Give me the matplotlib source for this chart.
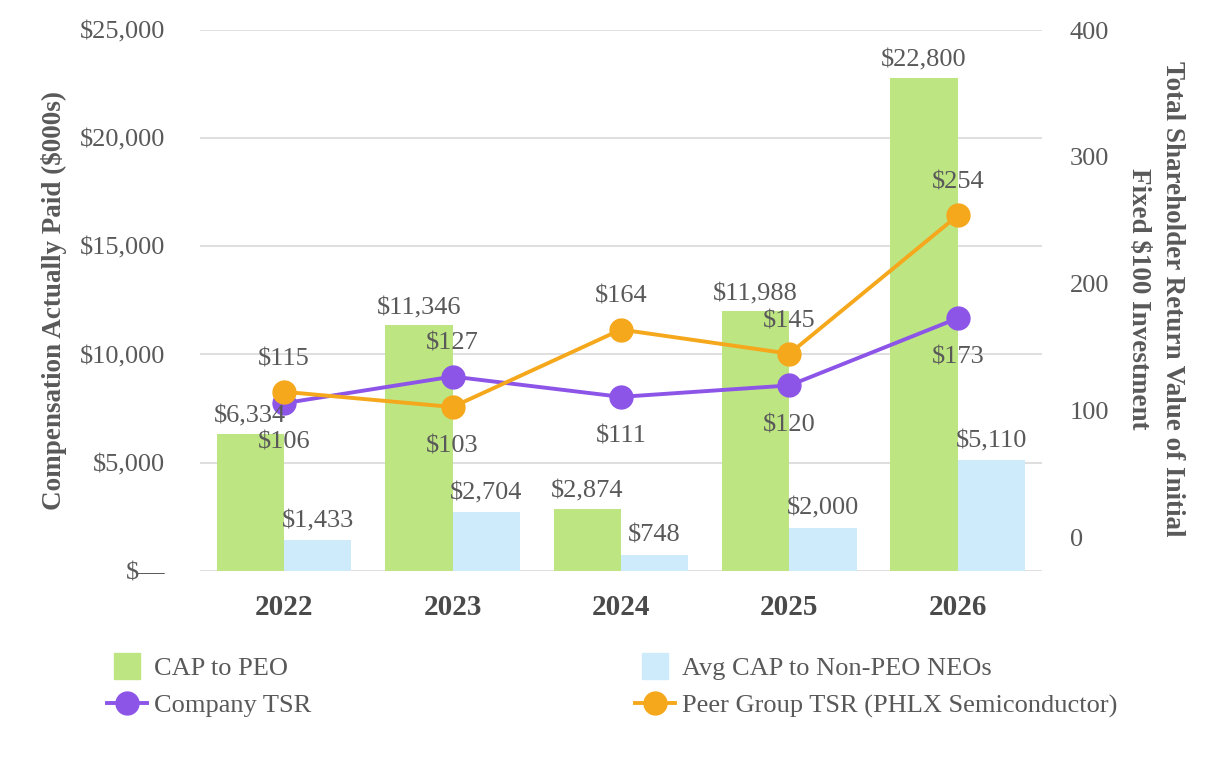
import numpy as np
import matplotlib.pyplot as plt
from matplotlib.lines import Line2D

years = ["2022", "2023", "2024", "2025", "2026"]
cap_peo = [6334, 11346, 2874, 11988, 22800]
cap_neo = [1433, 2704, 748, 2000, 5110]
company_tsr = [106, 127, 111, 120, 173]
peer_tsr = [115, 103, 164, 145, 254]
# label side for each line point: +1 above, -1 below
company_side = [-1, 1, -1, -1, -1]
peer_side = [1, -1, 1, 1, 1]

green = "#bde582"
blue = "#cdebfb"
purple = "#8c55e8"
orange = "#f5a81c"
gray = "#595959"

plt.rcParams["font.family"] = ["Liberation Serif", "DejaVu Serif"]
fs = 19

fig = plt.figure(figsize=(12.26, 7.6), dpi=100)
ax = fig.add_axes([0.163, 0.249, 0.687, 0.7115])
ax2 = ax.twinx()

x = np.arange(len(years))
w = 0.4
ax.bar(x - w / 2, cap_peo, w, color=green, zorder=2)
ax.bar(x + w / 2, cap_neo, w, color=blue, zorder=2)

ax.set_xlim(-0.5, 4.5)
ax.set_ylim(0, 25000)
ax.set_yticks(np.arange(0, 25001, 5000))
ax.set_yticklabels(["$\u2014"] + [f"${v:,}" for v in range(5000, 25001, 5000)])
ax.grid(axis="y", color="#d9d9d9", linewidth=1.2, zorder=0)
ax.set_axisbelow(True)
ax.set_xticks(x)
ax.set_xticklabels(years, fontweight="bold", fontsize=21)
for s in ax.spines.values():
    s.set_visible(False)
for s in ax2.spines.values():
    s.set_visible(False)
ax.tick_params(axis="y", length=0, labelsize=fs, colors=gray, pad=25)
ax.tick_params(axis="x", length=0, colors="#404040", pad=17)
for t in ax.get_xticklabels():
    t.set_color("#4a4a4a")

ax2.plot(x, company_tsr, color=purple, lw=2.8, marker="o", ms=16.5, zorder=3)
ax2.plot(x, peer_tsr, color=orange, lw=2.8, marker="o", ms=16.5, zorder=3)
ax2.set_ylim(-26, 400)
ax2.set_yticks([0, 100, 200, 300, 400])
ax2.tick_params(axis="y", length=0, labelsize=fs, colors=gray, pad=20)

ax.set_ylabel("Compensation Actually Paid ($000s)", fontsize=19.5, fontweight="bold",
              color=gray, labelpad=9)
fig.text(1172 / 1226, 0.607, "Total Shareholder Return Value of Initial", rotation=270,
         fontsize=19.5, fontweight="bold", color=gray, ha="center", va="center")
fig.text(1139 / 1226, 0.607, "Fixed $100 Investment", rotation=270,
         fontsize=19.5, fontweight="bold", color=gray, ha="center", va="center")

# value labels, drawn above the lines and markers
for i in range(len(years)):
    ax2.annotate(f"${cap_peo[i]:,}", xy=(x[i] - w / 2, cap_peo[i]), xycoords=ax.transData,
                 xytext=(0, 12.5), textcoords="offset points", ha="center", va="center",
                 fontsize=fs, color=gray, zorder=5)
    ax2.annotate(f"${cap_neo[i]:,}", xy=(x[i] + w / 2, cap_neo[i]), xycoords=ax.transData,
                 xytext=(0, 13.5), textcoords="offset points", ha="center", va="center",
                 fontsize=fs, color=gray, zorder=5)
    ax2.annotate(f"${company_tsr[i]}", xy=(x[i], company_tsr[i]),
                 xytext=(0, 26 * company_side[i] - 2.5), textcoords="offset points",
                 ha="center", va="center", fontsize=fs, color=gray, zorder=5)
    ax2.annotate(f"${peer_tsr[i]}", xy=(x[i], peer_tsr[i]),
                 xytext=(0, 26 * peer_side[i] - 2.5), textcoords="offset points",
                 ha="center", va="center", fontsize=fs, color=gray, zorder=5)

h_peo = Line2D([], [], color=green, marker="s", ms=19, ls="None")
h_neo = Line2D([], [], color=blue, marker="s", ms=19, ls="None")
h_co = Line2D([], [], color=purple, marker="o", ms=16.5, lw=2.8)
h_peer = Line2D([], [], color=orange, marker="o", ms=16.5, lw=2.8)

leg_kw = dict(loc="upper left", frameon=False, fontsize=fs, handlelength=1.5,
              handletextpad=0.3, labelspacing=0.5, borderpad=0, borderaxespad=0,
              labelcolor=gray)
fig.legend([h_peo, h_co], ["CAP to PEO", "Company TSR"],
           bbox_to_anchor=(107 / 1226, 1 - 657 / 760), **leg_kw)
fig.legend([h_neo, h_peer], ["Avg CAP to Non-PEO NEOs", "Peer Group TSR (PHLX Semiconductor)"],
           bbox_to_anchor=(635 / 1226, 1 - 657 / 760), **leg_kw)

fig.savefig("out.png", dpi=100)
